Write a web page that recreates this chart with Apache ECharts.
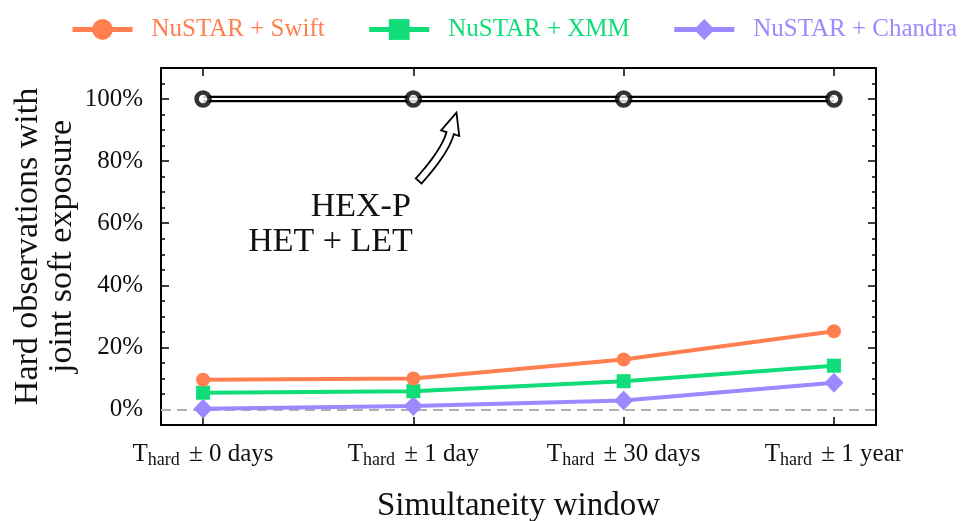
<!DOCTYPE html>
<html>
<head>
<meta charset="utf-8">
<script src="https://cdn.jsdelivr.net/npm/echarts@6/dist/echarts.min.js"></script>
<style>
html,body{margin:0;padding:0;background:#fff;}
#c{width:964px;height:521px;}
</style>
</head>
<body>
<div id="c"></div>
<script>
// ---- data ----
const windows = ['0 days', '1 day', '30 days', '1 year'];
const swift = [9.6, 10.0, 16.1, 25.2];
const xmm = [5.4, 5.9, 9.1, 14.1];
const chandra = [0.2, 1.1, 2.9, 8.6];
const hexp = [100, 100, 100, 100];
const yMajor = [0, 20, 40, 60, 80, 100];
const yMinor = [5, 10, 15, 25, 30, 35, 45, 50, 55, 65, 70, 75, 85, 90, 95, 105];
const xTicks = [0, 1, 2, 3];

const FONT = 'Liberation Serif';
const C_SWIFT = '#ff7f50';
const C_XMM = '#10dd78';
const C_CHANDRA = '#9e88ff';

const pts = arr => arr.map((v, i) => [i, v]);

const chart = echarts.init(document.getElementById('c'), null, {renderer: 'canvas'});

const axisLineStyle = {color: '#000', width: 2};
function yAx(pos, ticks, len, showLine, showLabel, extra) {
  return Object.assign({
    type: 'value', position: pos, min: -5, max: 110, gridIndex: 0,
    axisLine: {show: showLine, onZero: false, lineStyle: axisLineStyle},
    axisTick: {show: true, inside: true, length: len, customValues: ticks, lineStyle: {color: '#000', width: 1.5}},
    axisLabel: {show: showLabel, customValues: ticks, formatter: '{value}%', margin: 18,
      fontFamily: FONT, fontSize: 25, color: '#111'},
    splitLine: {show: false}
  }, extra || {});
}
function xAx(pos, showLabel, extra) {
  return Object.assign({
    type: 'value', position: pos, min: -0.2, max: 3.2, gridIndex: 0,
    axisLine: {show: true, onZero: false, lineStyle: axisLineStyle},
    axisTick: {show: true, inside: true, length: 8, customValues: xTicks, lineStyle: {color: '#000', width: 1.5}},
    axisLabel: {show: showLabel, customValues: xTicks, margin: 14,
      formatter: v => '{t|T}{s|hard}{n| \u00b1 ' + windows[Math.round(v)] + '}',
      rich: {
        t: {fontFamily: FONT, fontSize: 25, color: '#111', lineHeight: 30},
        s: {fontFamily: FONT, fontSize: 18, color: '#111', lineHeight: 30, verticalAlign: 'bottom', padding: [0, 3, 0, 0]},
        n: {fontFamily: FONT, fontSize: 25, color: '#111', lineHeight: 30}
      }},
    splitLine: {show: false}
  }, extra || {});
}

const option = {
  animation: false,
  backgroundColor: '#fff',
  grid: {left: 161, right: 88, top: 68, bottom: 96, containLabel: false, outerBoundsMode: 'none'},
  legend: {
    top: 17, left: 70, width: 900, padding: 0, itemGap: 42, itemWidth: 60, itemHeight: 26,
    lineStyle: {width: 5},
    textStyle: {fontFamily: FONT, fontSize: 25, padding: [0, 0, 0, 14]},
    data: [
      {name: 'NuSTAR + Swift', textStyle: {color: C_SWIFT}},
      {name: 'NuSTAR + XMM', textStyle: {color: C_XMM}},
      {name: 'NuSTAR + Chandra', textStyle: {color: C_CHANDRA}}
    ]
  },
  xAxis: [
    xAx('bottom', true, {name: 'Simultaneity window', nameLocation: 'middle', nameGap: 65, nameMoveOverlap: false,
      nameTextStyle: {fontFamily: FONT, fontSize: 33, color: '#111'}}),
    xAx('top', false)
  ],
  yAxis: [
    yAx('left', yMajor, 8, true, true, {name: 'Hard observations with\njoint soft exposure',
      nameLocation: 'middle', nameGap: 82, nameRotate: 90, nameMoveOverlap: false,
      nameTextStyle: {fontFamily: FONT, fontSize: 34, color: '#111', lineHeight: 34}}),
    yAx('left', yMinor, 4, false, false),
    yAx('right', yMajor, 8, true, false),
    yAx('right', yMinor, 4, false, false)
  ],
  series: [
    {name: 'HEX-P outer', type: 'line', data: pts(hexp), symbol: 'none', z: 5,
      lineStyle: {color: '#000', width: 6.5}, silent: true},
    {name: 'HEX-P inner', type: 'line', data: pts(hexp), symbol: 'none', z: 6,
      lineStyle: {color: '#fff', width: 2}, silent: true},
    {name: 'HEX-P', type: 'scatter', data: pts(hexp), symbol: 'circle', symbolSize: 13, z: 7,
      itemStyle: {color: '#fff', borderColor: '#000', borderWidth: 4.5}},
    {name: 'NuSTAR + Chandra', type: 'line', data: pts(chandra), symbol: 'diamond', symbolSize: [19, 20], z: 4,
      color: C_CHANDRA, itemStyle: {color: C_CHANDRA}, lineStyle: {color: C_CHANDRA, width: 4},
      markLine: {silent: true, symbol: 'none', label: {show: false}, z: 1,
        lineStyle: {color: '#b0b0b0', width: 2, type: [10, 6]}, data: [{yAxis: 0}]}},
    {name: 'NuSTAR + XMM', type: 'line', data: pts(xmm), symbol: 'rect', symbolSize: 14, z: 4,
      color: C_XMM, itemStyle: {color: C_XMM}, lineStyle: {color: C_XMM, width: 4}},
    {name: 'NuSTAR + Swift', type: 'line', data: pts(swift), symbol: 'circle', symbolSize: 14, z: 4,
      color: C_SWIFT, itemStyle: {color: C_SWIFT}, lineStyle: {color: C_SWIFT, width: 4}}
  ]
};
chart.setOption(option);

// ---- annotation (positions in data coordinates) ----
const annTail = [1.025, 73.6], annCtrl = [1.15, 83.0], annBase = [1.175, 89.0], annTip = [1.205, 95.6];
const textAnchor = [0.988, 65.2];
const toPx = p => chart.convertToPixel({xAxisIndex: 0, yAxisIndex: 0}, p);
const P0 = toPx(annTail), P1 = toPx(annCtrl), P2 = toPx(annBase), PT = toPx(annTip);
const N = 20, hw = 3.8, hh = 9.5;
const left = [], right = [];
for (let i = 0; i <= N; i++) {
  const t = i / N;
  const x = (1 - t) * (1 - t) * P0[0] + 2 * (1 - t) * t * P1[0] + t * t * P2[0];
  const y = (1 - t) * (1 - t) * P0[1] + 2 * (1 - t) * t * P1[1] + t * t * P2[1];
  const dx = 2 * (1 - t) * (P1[0] - P0[0]) + 2 * t * (P2[0] - P1[0]);
  const dy = 2 * (1 - t) * (P1[1] - P0[1]) + 2 * t * (P2[1] - P1[1]);
  const L = Math.hypot(dx, dy);
  const nx = -dy / L, ny = dx / L;
  left.push([x + nx * hw, y + ny * hw]);
  right.push([x - nx * hw, y - ny * hw]);
}
const dxh = PT[0] - P2[0], dyh = PT[1] - P2[1], Lh = Math.hypot(dxh, dyh);
const nxh = -dyh / Lh, nyh = dxh / Lh;
const poly = left.concat([
  [P2[0] + nxh * hh, P2[1] + nyh * hh], PT, [P2[0] - nxh * hh, P2[1] - nyh * hh]
]).concat(right.slice().reverse());
const TA = toPx(textAnchor);
chart.setOption({
  graphic: [
    {type: 'polygon', shape: {points: poly}, z: 20,
      style: {fill: '#fff', stroke: '#000', lineWidth: 1.8, lineJoin: 'miter'}},
    {type: 'text', x: TA[0], y: TA[1], z: 20,
      style: {text: 'HEX-P', fontFamily: FONT, fontSize: 34, fill: '#111', align: 'right', verticalAlign: 'middle'}},
    {type: 'text', x: TA[0] + 2, y: TA[1] + 35, z: 20,
      style: {text: 'HET + LET', fontFamily: FONT, fontSize: 34, fill: '#111', align: 'right', verticalAlign: 'middle'}}
  ]
});
</script>
</body>
</html>
